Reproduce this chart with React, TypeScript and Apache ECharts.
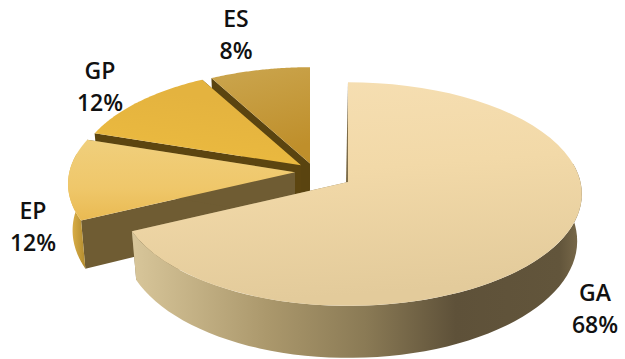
import React, { useEffect, useRef } from "react";
import * as echarts from "echarts";

// Shares clockwise from twelve o'clock.
const categories = ["GA", "EP", "GP", "ES"];
const shares = [68, 12, 12, 8];

// Disc projection: centre, radii and the strength of the perspective.
const CX = 348;
const CY = 182;
const RX = 232.5;
const RY = 110.5;
const K = 0.108;
const DEPTH = 46.4;
const BASE_TAPER = 0.98;
// The left half of the disc is drawn a touch narrower than the right.
const LEFT_SCALE = 0.98;

// How far each slice is pulled out of the pie.
const shiftX = [0, -53, -47, -38];
const shiftY = [0, -0.09, -0.153, -0.17];

const labelX = [595, 33, 100, 236];
const labelY = [308, 226, 86, 34];

// The rim only shows on the near side of the disc.
const RIM_FROM = (80 / 180) * Math.PI;
const RIM_TO = (280 / 180) * Math.PI;

const vGrad = (stops: [number, string][], x2 = 0, y2 = 1) =>
  new echarts.graphic.LinearGradient(
    0, 0, x2, y2,
    stops.map(([offset, color]) => ({ offset, color }))
  );

const topFill = [
  () => vGrad([[0, "#f6dfb3"], [0.45, "#f2d9a8"], [1, "#e3cb9b"]], 0.15, 1),
  () => vGrad([[0, "#f0cf7c"], [0.6, "#efc76a"], [1, "#e9ba52"]]),
  () => vGrad([[0, "#e4b33f"], [0.5, "#e9b83f"], [1, "#ecc060"]], -0.4, 1),
  () => vGrad([[0, "#cba64f"], [1, "#bf8f2b"]], 0.3, 1),
];
const outerFill = [
  () => vGrad([[0, "#d8c69a"], [0.3, "#ab986c"], [0.52, "#8a7a55"], [0.72, "#5e5139"], [0.95, "#62553b"], [1, "#7c6c4c"]], 1, 0),
  () => vGrad([[0, "#e6b94e"], [1, "#b28b2e"]], 1, 0),
  () => vGrad([[0, "#d0a237"], [1, "#9a7a25"]], 1, 0),
  () => vGrad([[0, "#b58c30"], [1, "#8d6c22"]], 1, 0),
];
const cutFill = ["#8a7a55", "#6f5c33", "#5c4510", "#5a4410"];

function point(index: number, angle: number, radius: number, lowered: boolean): number[] {
  const raw = radius * Math.sin(angle);
  const u = raw < 0 ? raw * LEFT_SCALE : raw;
  const v = -radius * Math.cos(angle) + shiftY[index];
  const w = 1 - K * v;
  const taper = lowered ? BASE_TAPER : 1;
  return [
    CX + shiftX[index] + (RX * taper * u) / w,
    CY + (RY * v) / w + (lowered ? DEPTH / w : 0),
  ];
}

function arc(index: number, from: number, to: number, lowered: boolean): number[][] {
  const steps = 60;
  const pts: number[][] = [];
  for (let s = 0; s <= steps; s++) {
    pts.push(point(index, from + ((to - from) * s) / steps, 1, lowered));
  }
  return pts;
}

function renderSlice(_params: any, api: any) {
  const index = api.value(0) as number;
  const total = shares.reduce((a, b) => a + b, 0);
  const before = shares.slice(0, index).reduce((a, b) => a + b, 0);
  const from = (before / total) * Math.PI * 2;
  const to = ((before + (api.value(1) as number)) / total) * Math.PI * 2;

  const apexTop = point(index, 0, 0, false);
  const apexLow = point(index, 0, 0, true);
  const silent = true;
  const poly = (points: number[][], fill: any) => ({
    type: "polygon",
    silent,
    shape: { points },
    style: { fill, stroke: null },
  });

  // Painted far to near: the two cut faces, the rim, then the top.
  const children: any[] = [
    poly([apexTop, point(index, from, 1, false), point(index, from, 1, true), apexLow], cutFill[index]),
    poly([apexTop, point(index, to, 1, false), point(index, to, 1, true), apexLow], cutFill[index]),
  ];
  const rimFrom = Math.max(from, RIM_FROM);
  const rimTo = Math.min(to, RIM_TO);
  if (rimFrom < rimTo) {
    children.push(
      poly([...arc(index, rimFrom, rimTo, false), ...arc(index, rimFrom, rimTo, true).reverse()], outerFill[index]())
    );
  }
  children.push(poly([apexTop, ...arc(index, from, to, false)], topFill[index]()));
  if (index === 0) {
    // Sliver of the large slice's back cut, just visible left of its top edge.
    const back = point(index, 0, 1, false);
    children.push(poly([back, apexTop, [apexTop[0] - 2, apexTop[1]]], "#7d6c48"));
  }
  const textStyle = {
    x: labelX[index],
    fontFamily: "'Open Sans'",
    fontSize: 23,
    fontWeight: 600,
    fill: "#111111",
    align: "center",
    verticalAlign: "middle",
  };
  children.push(
    { type: "text", silent, z2: 10, style: { ...textStyle, y: labelY[index] - 16, text: categories[index] } },
    { type: "text", silent, z2: 10, style: { ...textStyle, y: labelY[index] + 16, text: `${api.value(1)}%` } }
  );
  return { type: "group", children };
}

export default function App() {
  const ref = useRef<HTMLDivElement>(null);
  useEffect(() => {
    document.body.style.margin = "0";
    const chart = echarts.init(ref.current!, undefined, { renderer: "svg" });
    chart.setOption({
      animation: false,
      backgroundColor: "#ffffff",
      series: [
        {
          type: "custom",
          coordinateSystem: "none",
          renderItem: renderSlice,
          // Back slices first so the nearer ones paint over them.
          data: categories.map((_, i) => [i, shares[i]]).reverse(),
        },
      ],
    });
    return () => chart.dispose();
  }, []);
  return <div ref={ref} style={{ width: 625, height: 359 }} />;
}
